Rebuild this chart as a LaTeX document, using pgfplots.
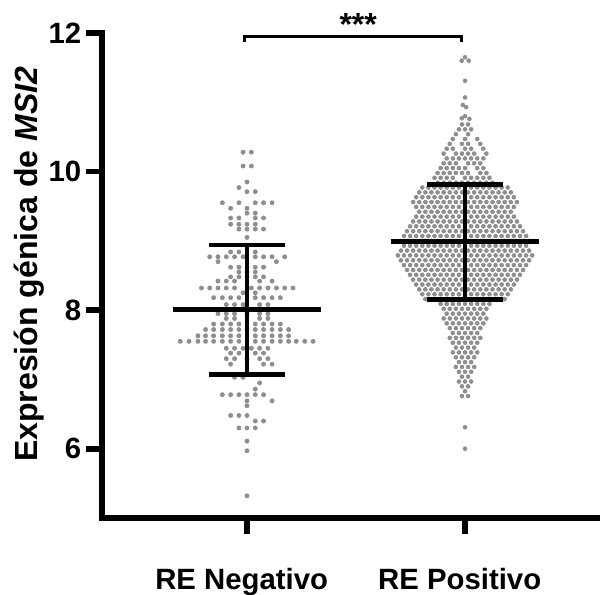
\documentclass[border=0pt]{standalone}
\usepackage{fontspec}
\setmainfont{Liberation Sans}
\usepackage{pgfplots}
\pgfplotsset{compat=1.18}
\definecolor{dot}{HTML}{8E8E8E}
\begin{document}
\begin{tikzpicture}
\begin{axis}[
  set layers=standard,
  at={(0,0)}, anchor=south west,
  scale only axis, width=373.5pt, height=363.75pt,
  xmin=-0.665, xmax=1.619, ymin=5, ymax=12,
  axis x line*=bottom, axis y line*=left,
  axis line style={line width=4.2pt, line cap=rect},
  xtick={0,1}, xticklabels={RE Negativo, RE Positivo},
  ytick={6,8,10,12}, minor tick num=0,
  tick align=outside, major tick length=12pt,
  major tick style={line width=4.2pt, black},
  /pgf/number format/assume math mode=true,
  ticklabel style={font=\fontsize{22}{24}\selectfont\bfseries},
  xticklabel style={yshift=-22pt, xshift=-4pt},
  ylabel={Expresión génica de \textit{MSI2}},
  ylabel style={font=\fontsize{24}{26}\selectfont\bfseries, at={(axis description cs:-0.129,0.523)}, anchor=base},
  clip=false,
]
% RE Negativo
\addplot[only marks, mark=*, mark size=1.6pt, color=dot] coordinates {
(-0.018,10.28)(0.020,10.28)
(-0.018,10.08)(0.020,10.08)
(0,9.85)
(-0.037,9.77)
(0,9.71)(0.038,9.71)
(-0.113,9.55)(-0.037,9.55)(0.038,9.55)(0.076,9.55)(0.115,9.55)
(-0.075,9.47)(0,9.47)
(0,9.40)(0.038,9.40)
(-0.075,9.33)(-0.037,9.33)(0.038,9.33)(0.076,9.33)
(-0.075,9.24)(-0.037,9.24)(0,9.24)(0.038,9.24)
(-0.037,9.17)(0,9.17)(0.038,9.17)(0.076,9.17)
(0,9.05)
(-0.075,8.84)(-0.037,8.84)(0.038,8.84)
(-0.171,8.77)(-0.133,8.77)(-0.095,8.77)(-0.057,8.77)(-0.018,8.77)(0.038,8.77)(0.076,8.77)(0.115,8.77)(0.173,8.77)
(-0.133,8.70)(0.135,8.70)
(-0.075,8.62)(-0.037,8.62)(0.038,8.62)(0.076,8.62)
(-0.037,8.55)(0,8.55)(0.038,8.55)
(-0.075,8.48)(-0.037,8.48)(0,8.48)(0.038,8.48)(0.076,8.48)
(-0.133,8.42)(-0.095,8.42)(-0.057,8.42)(0.058,8.42)(0.115,8.42)
(-0.209,8.32)(-0.171,8.32)(-0.133,8.32)(-0.095,8.32)(-0.057,8.32)(0.020,8.32)(0.058,8.32)(0.096,8.32)(0.135,8.32)(0.173,8.32)(0.211,8.32)
(-0.018,8.25)(0.038,8.25)
(-0.153,8.18)(-0.113,8.18)(-0.075,8.18)(-0.037,8.18)(0.038,8.18)(0.076,8.18)(0.115,8.18)(0.153,8.18)
(-0.095,8.08)(-0.057,8.08)(-0.018,8.08)(0.058,8.08)(0.096,8.08)
(-0.133,7.95)(-0.095,7.95)(-0.057,7.95)(0,7.95)(0.058,7.95)(0.096,7.95)
(-0.095,7.88)(-0.057,7.88)(0.058,7.88)(0.096,7.88)
(-0.153,7.80)(-0.113,7.80)(-0.075,7.80)(-0.037,7.80)(0.038,7.80)(0.076,7.80)(0.115,7.80)(0.153,7.80)
(-0.190,7.72)(-0.153,7.72)(-0.113,7.72)(-0.075,7.72)(-0.037,7.72)(0,7.72)(0.038,7.72)(0.076,7.72)(0.115,7.72)(0.153,7.72)(0.191,7.72)
(-0.225,7.63)(-0.190,7.63)(-0.153,7.63)(-0.113,7.63)(-0.075,7.63)(-0.037,7.63)(0.038,7.63)(0.076,7.63)(0.115,7.63)(0.153,7.63)(0.191,7.63)
(-0.306,7.55)(-0.266,7.55)(-0.225,7.55)(-0.190,7.55)(-0.153,7.55)(-0.113,7.55)(-0.075,7.55)(-0.037,7.55)(0.038,7.55)(0.076,7.55)(0.115,7.55)(0.153,7.55)(0.191,7.55)(0.226,7.55)(0.265,7.55)(0.303,7.55)
(-0.095,7.45)(-0.057,7.45)(-0.018,7.45)(0.020,7.45)(0.058,7.45)(0.096,7.45)
(-0.075,7.38)(-0.037,7.38)(0.038,7.38)(0.076,7.38)
(-0.095,7.30)(-0.057,7.30)(0,7.30)(0.058,7.30)(0.096,7.30)
(-0.075,7.22)(0.076,7.22)(0.115,7.22)
(-0.057,7.03)(-0.018,7.03)
(0.058,6.95)
(0.038,6.86)
(-0.113,6.78)(-0.075,6.78)(-0.037,6.78)(0,6.78)(0.038,6.78)(0.076,6.78)
(0,6.69)(0.115,6.69)
(0,6.62)
(-0.075,6.48)(-0.037,6.48)(0,6.48)
(0.038,6.40)(0.076,6.40)
(-0.037,6.30)(0,6.30)(0.038,6.30)
(0,6.11)
(0,5.97)
(0,5.32)
};
% RE Positivo
\addplot[only marks, mark=*, mark size=1.5pt, color=dot] coordinates {
(1,11.65)(0.985,11.60)(1.017,11.60)
(1,11.31)
(1,11.07)
(0.990,10.96)(1.005,10.93)
(0.985,10.77)(1,10.80)(1.020,10.76)
(0.986,10.68)(1.014,10.68)
(0.972,10.61)(1,10.61)(1.028,10.61)
(0.958,10.54)(1.014,10.54)
(0.944,10.47)(1,10.47)(1.056,10.47)
(0.930,10.40)(0.986,10.40)(1.014,10.40)(1.070,10.40)
(0.916,10.33)(0.944,10.33)(1,10.33)(1.028,10.33)(1.084,10.33)
(0.902,10.26)(0.958,10.26)(0.986,10.26)(1.014,10.26)(1.042,10.26)(1.098,10.26)
(0.916,10.19)(0.944,10.19)(0.972,10.19)(1,10.19)(1.028,10.19)(1.056,10.19)(1.084,10.19)
(0.902,10.12)(0.930,10.12)(0.958,10.12)(1.014,10.12)(1.042,10.12)(1.070,10.12)
(0.888,10.05)(0.916,10.05)(0.944,10.05)(0.972,10.05)(1,10.05)(1.056,10.05)(1.084,10.05)
(0.874,9.98)(0.902,9.98)(0.930,9.98)(0.958,9.98)(0.986,9.98)(1.014,9.98)(1.070,9.98)(1.098,9.98)
(0.860,9.91)(0.888,9.91)(0.916,9.91)(0.944,9.91)(1,9.91)(1.028,9.91)(1.056,9.91)(1.084,9.91)(1.112,9.91)
(0.874,9.84)(0.902,9.84)(0.930,9.84)(0.958,9.84)(0.986,9.84)(1.014,9.84)(1.042,9.84)(1.070,9.84)(1.098,9.84)(1.126,9.84)
(0.804,9.77)(0.832,9.77)(0.860,9.77)(0.888,9.77)(0.916,9.77)(0.944,9.77)(0.972,9.77)(1,9.77)(1.028,9.77)(1.056,9.77)(1.084,9.77)(1.112,9.77)(1.140,9.77)(1.168,9.77)(1.196,9.77)
(0.790,9.70)(0.818,9.70)(0.846,9.70)(0.874,9.70)(0.902,9.70)(0.930,9.70)(0.958,9.70)(0.986,9.70)(1.014,9.70)(1.042,9.70)(1.070,9.70)(1.098,9.70)(1.126,9.70)(1.154,9.70)(1.182,9.70)(1.210,9.70)
(0.776,9.63)(0.804,9.63)(0.832,9.63)(0.860,9.63)(0.888,9.63)(0.916,9.63)(0.944,9.63)(0.972,9.63)(1,9.63)(1.028,9.63)(1.056,9.63)(1.084,9.63)(1.112,9.63)(1.140,9.63)(1.168,9.63)(1.196,9.63)(1.224,9.63)
(0.762,9.56)(0.790,9.56)(0.818,9.56)(0.846,9.56)(0.874,9.56)(0.902,9.56)(0.930,9.56)(0.958,9.56)(0.986,9.56)(1.014,9.56)(1.042,9.56)(1.070,9.56)(1.098,9.56)(1.126,9.56)(1.154,9.56)(1.182,9.56)(1.210,9.56)(1.238,9.56)
(0.776,9.49)(0.804,9.49)(0.832,9.49)(0.860,9.49)(0.888,9.49)(0.916,9.49)(0.944,9.49)(0.972,9.49)(1,9.49)(1.028,9.49)(1.056,9.49)(1.084,9.49)(1.112,9.49)(1.140,9.49)(1.168,9.49)(1.196,9.49)(1.224,9.49)
(0.790,9.42)(0.818,9.42)(0.846,9.42)(0.874,9.42)(0.902,9.42)(0.930,9.42)(0.958,9.42)(0.986,9.42)(1.014,9.42)(1.042,9.42)(1.070,9.42)(1.098,9.42)(1.126,9.42)(1.154,9.42)(1.182,9.42)(1.210,9.42)
(0.776,9.35)(0.804,9.35)(0.832,9.35)(0.860,9.35)(0.888,9.35)(0.916,9.35)(0.944,9.35)(0.972,9.35)(1,9.35)(1.028,9.35)(1.056,9.35)(1.084,9.35)(1.112,9.35)(1.140,9.35)(1.168,9.35)(1.196,9.35)(1.224,9.35)
(0.762,9.28)(0.790,9.28)(0.818,9.28)(0.846,9.28)(0.874,9.28)(0.902,9.28)(0.930,9.28)(0.958,9.28)(0.986,9.28)(1.014,9.28)(1.042,9.28)(1.070,9.28)(1.098,9.28)(1.126,9.28)(1.154,9.28)(1.182,9.28)(1.210,9.28)(1.238,9.28)
(0.748,9.21)(0.776,9.21)(0.804,9.21)(0.832,9.21)(0.860,9.21)(0.888,9.21)(0.916,9.21)(0.944,9.21)(0.972,9.21)(1,9.21)(1.028,9.21)(1.056,9.21)(1.084,9.21)(1.112,9.21)(1.140,9.21)(1.168,9.21)(1.196,9.21)(1.224,9.21)(1.252,9.21)
(0.734,9.14)(0.762,9.14)(0.790,9.14)(0.818,9.14)(0.846,9.14)(0.874,9.14)(0.902,9.14)(0.930,9.14)(0.958,9.14)(0.986,9.14)(1.014,9.14)(1.042,9.14)(1.070,9.14)(1.098,9.14)(1.126,9.14)(1.154,9.14)(1.182,9.14)(1.210,9.14)(1.238,9.14)(1.266,9.14)
(0.720,9.07)(0.748,9.07)(0.776,9.07)(0.804,9.07)(0.832,9.07)(0.860,9.07)(0.888,9.07)(0.916,9.07)(0.944,9.07)(0.972,9.07)(1,9.07)(1.028,9.07)(1.056,9.07)(1.084,9.07)(1.112,9.07)(1.140,9.07)(1.168,9.07)(1.196,9.07)(1.224,9.07)(1.252,9.07)(1.280,9.07)
(0.706,9.00)(0.734,9.00)(0.762,9.00)(0.790,9.00)(0.818,9.00)(0.846,9.00)(0.874,9.00)(0.902,9.00)(0.930,9.00)(0.958,9.00)(0.986,9.00)(1.014,9.00)(1.042,9.00)(1.070,9.00)(1.098,9.00)(1.126,9.00)(1.154,9.00)(1.182,9.00)(1.210,9.00)(1.238,9.00)(1.266,9.00)(1.294,9.00)
(0.720,8.93)(0.748,8.93)(0.776,8.93)(0.804,8.93)(0.832,8.93)(0.860,8.93)(0.888,8.93)(0.916,8.93)(0.944,8.93)(0.972,8.93)(1,8.93)(1.028,8.93)(1.056,8.93)(1.084,8.93)(1.112,8.93)(1.140,8.93)(1.168,8.93)(1.196,8.93)(1.224,8.93)(1.252,8.93)(1.280,8.93)
(0.706,8.86)(0.734,8.86)(0.762,8.86)(0.790,8.86)(0.818,8.86)(0.846,8.86)(0.874,8.86)(0.902,8.86)(0.930,8.86)(0.958,8.86)(0.986,8.86)(1.014,8.86)(1.042,8.86)(1.070,8.86)(1.098,8.86)(1.126,8.86)(1.154,8.86)(1.182,8.86)(1.210,8.86)(1.238,8.86)(1.266,8.86)(1.294,8.86)
(0.692,8.79)(0.720,8.79)(0.748,8.79)(0.776,8.79)(0.804,8.79)(0.832,8.79)(0.860,8.79)(0.888,8.79)(0.916,8.79)(0.944,8.79)(0.972,8.79)(1,8.79)(1.028,8.79)(1.056,8.79)(1.084,8.79)(1.112,8.79)(1.140,8.79)(1.168,8.79)(1.196,8.79)(1.224,8.79)(1.252,8.79)(1.280,8.79)(1.308,8.79)
(0.706,8.72)(0.734,8.72)(0.762,8.72)(0.790,8.72)(0.818,8.72)(0.846,8.72)(0.874,8.72)(0.902,8.72)(0.930,8.72)(0.958,8.72)(0.986,8.72)(1.014,8.72)(1.042,8.72)(1.070,8.72)(1.098,8.72)(1.126,8.72)(1.154,8.72)(1.182,8.72)(1.210,8.72)(1.238,8.72)(1.266,8.72)(1.294,8.72)
(0.720,8.65)(0.748,8.65)(0.776,8.65)(0.804,8.65)(0.832,8.65)(0.860,8.65)(0.888,8.65)(0.916,8.65)(0.944,8.65)(0.972,8.65)(1,8.65)(1.028,8.65)(1.056,8.65)(1.084,8.65)(1.112,8.65)(1.140,8.65)(1.168,8.65)(1.196,8.65)(1.224,8.65)(1.252,8.65)(1.280,8.65)
(0.734,8.58)(0.762,8.58)(0.790,8.58)(0.818,8.58)(0.846,8.58)(0.874,8.58)(0.902,8.58)(0.930,8.58)(0.958,8.58)(0.986,8.58)(1.014,8.58)(1.042,8.58)(1.070,8.58)(1.098,8.58)(1.126,8.58)(1.154,8.58)(1.182,8.58)(1.210,8.58)(1.238,8.58)(1.266,8.58)
(0.748,8.51)(0.776,8.51)(0.804,8.51)(0.832,8.51)(0.860,8.51)(0.888,8.51)(0.916,8.51)(0.944,8.51)(0.972,8.51)(1,8.51)(1.028,8.51)(1.056,8.51)(1.084,8.51)(1.112,8.51)(1.140,8.51)(1.168,8.51)(1.196,8.51)(1.224,8.51)(1.252,8.51)
(0.762,8.44)(0.790,8.44)(0.818,8.44)(0.846,8.44)(0.874,8.44)(0.902,8.44)(0.930,8.44)(0.958,8.44)(0.986,8.44)(1.014,8.44)(1.042,8.44)(1.070,8.44)(1.098,8.44)(1.126,8.44)(1.154,8.44)(1.182,8.44)(1.210,8.44)(1.238,8.44)
(0.776,8.37)(0.804,8.37)(0.832,8.37)(0.860,8.37)(0.888,8.37)(0.916,8.37)(0.944,8.37)(0.972,8.37)(1,8.37)(1.028,8.37)(1.056,8.37)(1.084,8.37)(1.112,8.37)(1.140,8.37)(1.168,8.37)(1.196,8.37)(1.224,8.37)
(0.790,8.30)(0.818,8.30)(0.846,8.30)(0.874,8.30)(0.902,8.30)(0.930,8.30)(0.958,8.30)(0.986,8.30)(1.014,8.30)(1.042,8.30)(1.070,8.30)(1.098,8.30)(1.126,8.30)(1.154,8.30)(1.182,8.30)(1.210,8.30)
(0.804,8.23)(0.832,8.23)(0.860,8.23)(0.888,8.23)(0.916,8.23)(0.944,8.23)(0.972,8.23)(1,8.23)(1.028,8.23)(1.056,8.23)(1.084,8.23)(1.112,8.23)(1.140,8.23)(1.168,8.23)(1.196,8.23)
(0.818,8.16)(0.846,8.16)(0.874,8.16)(0.902,8.16)(0.930,8.16)(0.958,8.16)(0.986,8.16)(1.014,8.16)(1.042,8.16)(1.070,8.16)(1.098,8.16)(1.126,8.16)(1.154,8.16)(1.182,8.16)
(0.888,8.09)(0.916,8.09)(0.944,8.09)(0.972,8.09)(1,8.09)(1.028,8.09)(1.056,8.09)(1.084,8.09)(1.112,8.09)
(0.902,8.02)(0.930,8.02)(0.958,8.02)(0.986,8.02)(1.014,8.02)(1.042,8.02)(1.070,8.02)(1.098,8.02)
(0.916,7.95)(0.944,7.95)(0.972,7.95)(1,7.95)(1.028,7.95)(1.056,7.95)(1.084,7.95)
(0.902,7.88)(0.930,7.88)(0.958,7.88)(0.986,7.88)(1.014,7.88)(1.042,7.88)(1.070,7.88)(1.098,7.88)
(0.916,7.81)(0.944,7.81)(0.972,7.81)(1,7.81)(1.028,7.81)(1.056,7.81)(1.084,7.81)
(0.930,7.74)(0.958,7.74)(0.986,7.74)(1.014,7.74)(1.042,7.74)(1.070,7.74)
(0.944,7.67)(0.972,7.67)(1,7.67)(1.028,7.67)(1.056,7.67)
(0.930,7.60)(0.958,7.60)(0.986,7.60)(1.014,7.60)(1.042,7.60)(1.070,7.60)
(0.944,7.53)(0.972,7.53)(1,7.53)(1.028,7.53)(1.056,7.53)
(0.958,7.46)(0.986,7.46)(1.014,7.46)(1.042,7.46)
(0.944,7.39)(0.972,7.39)(1,7.39)(1.028,7.39)(1.056,7.39)
(0.958,7.32)(0.986,7.32)(1.014,7.32)(1.042,7.32)
(0.972,7.25)(1,7.25)(1.028,7.25)
(0.958,7.18)(0.986,7.18)(1.014,7.18)(1.042,7.18)
(0.972,7.11)(1,7.11)(1.028,7.11)
(0.986,7.04)(1.014,7.04)
(0.972,6.97)(1,6.97)(1.028,6.97)
(0.986,6.90)(1.014,6.90)
(1,6.83)
(0.986,6.76)(1.014,6.76)
(1,6.31)
(1,6.00)
};
% mean and SD bars
\addplot[on layer=axis foreground, black, line width=3.4pt, line cap=rect] coordinates {(-0.33,8.01)(0.33,8.01)};
\addplot[on layer=axis foreground, black, line width=3.4pt] coordinates {(0,7.07)(0,8.94)};
\addplot[on layer=axis foreground, black, line width=3.4pt, line cap=rect] coordinates {(-0.165,8.94)(0.165,8.94)};
\addplot[on layer=axis foreground, black, line width=3.4pt, line cap=rect] coordinates {(-0.165,7.07)(0.165,7.07)};
\addplot[on layer=axis foreground, black, line width=3.4pt, line cap=rect] coordinates {(0.67,8.99)(1.33,8.99)};
\addplot[on layer=axis foreground, black, line width=3.4pt] coordinates {(1,8.15)(1,9.81)};
\addplot[on layer=axis foreground, black, line width=3.4pt, line cap=rect] coordinates {(0.835,9.81)(1.165,9.81)};
\addplot[on layer=axis foreground, black, line width=3.4pt, line cap=rect] coordinates {(0.835,8.15)(1.165,8.15)};
% significance bracket
\addplot[black, line width=2.2pt, line join=miter] coordinates {(-0.013,11.87)(-0.013,11.95)(0.982,11.95)(0.982,11.87)};
\node[font=\fontsize{24}{24}\selectfont\bfseries, anchor=base, inner sep=0pt] at (axis cs:0.51,11.97) {***};
\end{axis}
\pgfresetboundingbox
\useasboundingbox (-76.5pt,-57pt) rectangle (373.5pt,388.5pt);
\end{tikzpicture}
\end{document}
